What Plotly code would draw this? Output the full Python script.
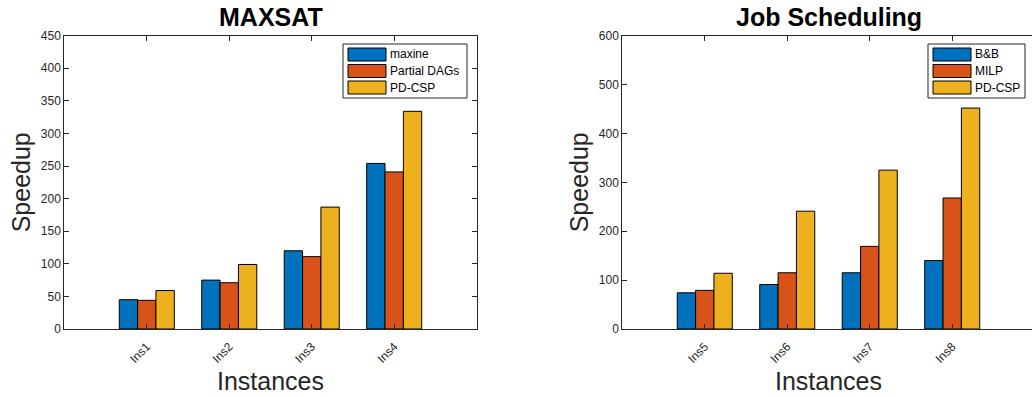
import plotly.graph_objects as go

# ---- data ----
maxsat_instances = ["Ins1", "Ins2", "Ins3", "Ins4"]
maxsat_series = ["maxine", "Partial DAGs", "PD-CSP"]
maxsat_maxine = [45, 75, 120, 254]
maxsat_partial_dags = [44, 71, 111, 241]
maxsat_pdcsp = [59, 99, 187, 334]

job_instances = ["Ins5", "Ins6", "Ins7", "Ins8"]
job_series = ["B&B", "MILP", "PD-CSP"]
job_bnb = [74, 91, 115, 140]
job_milp = [79, 115, 169, 268]
job_pdcsp = [114, 241, 325, 452]

maxsat_yticks = [0, 50, 100, 150, 200, 250, 300, 350, 400, 450]
job_yticks = [0, 100, 200, 300, 400, 500, 600]

# ---- styling ----
W, H = 1032, 397
COLORS = ["#0072BD", "#D95319", "#EDB120"]
AXIS_COLOR = "#262626"
FONT = "Liberation Sans, Arial, Helvetica, sans-serif"


def px_x(p):
    return p / W


def px_y(p):
    return 1 - p / H


fig = go.Figure()

positions = [1, 2, 3, 4]
for name, vals, col in zip(maxsat_series, [maxsat_maxine, maxsat_partial_dags, maxsat_pdcsp], COLORS):
    fig.add_trace(go.Bar(x=positions, y=vals, name=name, marker=dict(color=col, line=dict(color="black", width=1)),
                         xaxis="x", yaxis="y", showlegend=False, offsetgroup=name))
for name, vals, col in zip(job_series, [job_bnb, job_milp, job_pdcsp], COLORS):
    fig.add_trace(go.Bar(x=positions, y=vals, name=name, marker=dict(color=col, line=dict(color="black", width=1)),
                         xaxis="x2", yaxis="y2", showlegend=False, offsetgroup="j" + name))

# plot areas (pixel geometry)
L1, R1 = 64.3, 476.7
L2 = 622.3
unit = (R1 - L1) / 5.0
TOP, BOT = 35.7, 329

axis_common = dict(showgrid=False, zeroline=False, showline=True, linecolor=AXIS_COLOR, linewidth=1,
                   ticks="inside", ticklen=5, tickcolor=AXIS_COLOR, tickwidth=1, automargin=False,
                   tickfont=dict(family=FONT, size=12, color=AXIS_COLOR))

fig.update_layout(
    width=W, height=H, autosize=False,
    margin=dict(l=0, r=0, t=0, b=0, pad=0, autoexpand=False),
    paper_bgcolor="white", plot_bgcolor="white",
    barmode="group", bargap=0.333, bargroupgap=0,
    xaxis=dict(domain=[px_x(L1), px_x(R1)], range=[0, 5], tickvals=positions, ticktext=maxsat_instances,
               tickangle=-45, mirror="ticks", anchor="y", ticklabelstandoff=5, **axis_common),
    yaxis=dict(domain=[px_y(BOT), px_y(TOP)], range=[0, 450], tickvals=maxsat_yticks, mirror="ticks",
               anchor="x", **axis_common),
    xaxis2=dict(domain=[px_x(L2), 1.0], range=[0, (W - L2) / unit], tickvals=positions, ticktext=job_instances,
                tickangle=-45, mirror="ticks", anchor="y2", ticklabelstandoff=5, **axis_common),
    yaxis2=dict(domain=[px_y(BOT), px_y(TOP)], range=[0, 600], tickvals=job_yticks, anchor="x2", **axis_common),
    yaxis3=dict(overlaying="y2", side="right", anchor="free", position=1.0, range=[0, 600], tickvals=job_yticks,
                showgrid=False, zeroline=False, showline=False, ticks="inside", ticklen=5, tickcolor=AXIS_COLOR,
                showticklabels=False, automargin=False),
)

annotations = []
shapes = []

# titles and axis labels
for cx, title in [((L1 + R1) / 2, "MAXSAT"), ((L2 + L2 + 5 * unit) / 2, "Job Scheduling")]:
    annotations.append(dict(x=px_x(cx), y=px_y(17), xref="paper", yref="paper", text="<b>%s</b>" % title,
                            showarrow=False, xanchor="center", yanchor="middle",
                            font=dict(family=FONT, size=25, color="black")))
    annotations.append(dict(x=px_x(cx), y=px_y(381), xref="paper", yref="paper", text="Instances",
                            showarrow=False, xanchor="center", yanchor="middle",
                            font=dict(family=FONT, size=25, color=AXIS_COLOR)))
for cx in [21, 579]:
    annotations.append(dict(x=px_x(cx), y=px_y((TOP + BOT) / 2), xref="paper", yref="paper", text="Speedup",
                            textangle=-90, showarrow=False, xanchor="center", yanchor="middle",
                            font=dict(family=FONT, size=25, color=AXIS_COLOR)))

# legends drawn as boxed swatches with labels
for (bx0, bx1, names) in [(343, 467, maxsat_series), (928, 1025, job_series)]:
    by0, by1 = 44, 98
    shapes.append(dict(type="rect", xref="paper", yref="paper", x0=px_x(bx0), x1=px_x(bx1),
                       y0=px_y(by1), y1=px_y(by0), line=dict(color=AXIS_COLOR, width=1), fillcolor="white"))
    for i, (name, col) in enumerate(zip(names, COLORS)):
        ry0 = 48 + i * 16.5
        shapes.append(dict(type="rect", xref="paper", yref="paper", x0=px_x(bx0 + 5), x1=px_x(bx0 + 43),
                           y0=px_y(ry0 + 13), y1=px_y(ry0), line=dict(color="black", width=1), fillcolor=col))
        annotations.append(dict(x=px_x(bx0 + 45), y=px_y(ry0 + 6.5), xref="paper", yref="paper", text=name,
                                showarrow=False, xanchor="left", yanchor="middle",
                                font=dict(family=FONT, size=12, color="black")))

fig.update_layout(annotations=annotations, shapes=shapes)

fig.write_html("out.html", config={"displayModeBar": False})
